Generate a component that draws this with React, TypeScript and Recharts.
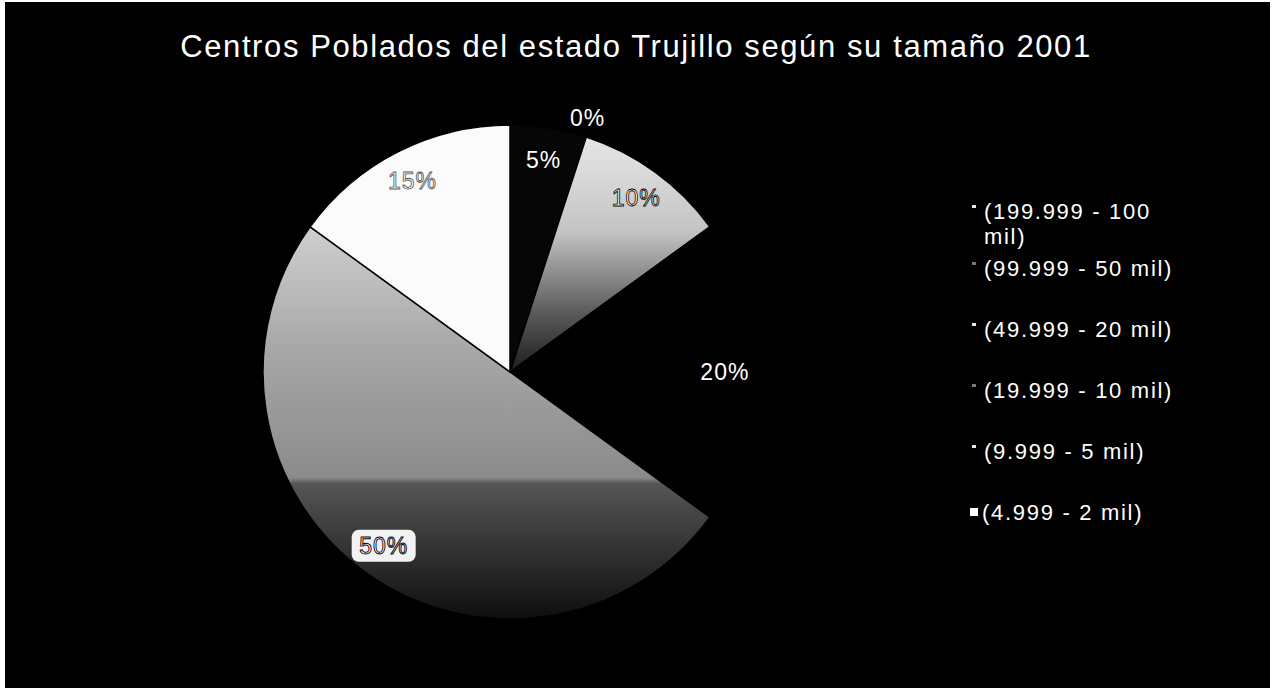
import React from "react";
import { PieChart, Pie, Cell, Legend } from "recharts";

const TITLE = "Centros Poblados del estado Trujillo según su tamaño 2001";
const categories = [
  "(199.999 - 100 mil)",
  "(99.999 - 50 mil)",
  "(49.999 - 20 mil)",
  "(19.999 - 10 mil)",
  "(9.999 - 5 mil)",
  "(4.999 - 2 mil)",
];
const shares = [0, 5, 10, 20, 50, 15];

const FILLS = ["#ffffff", "#060606", "url(#g10)", "#000000", "url(#g50)", "#fbfbfb"];
const MARKERS = ["#e8e8e8", "#777", "#e8e8e8", "#777", "#e8e8e8", "#ffffff"];
const FONT = "'Liberation Sans', Arial, sans-serif";
const RAD = Math.PI / 180;

const data = categories.map((name, i) => ({ name, value: shares[i] }));

function renderLabel(p: any) {
  const { cx, cy, midAngle, outerRadius, percent, index } = p;
  const txt = `${Math.round(percent * 100)}%`;
  let r = outerRadius * 0.87;
  let a = midAngle;
  if (shares[index] === 0) {
    r = outerRadius * 1.075;
    a = midAngle - 17;
  }
  const x = cx + r * Math.cos(-a * RAD);
  const y = cy + r * Math.sin(-a * RAD);
  const base = {
    x,
    y,
    textAnchor: "middle" as const,
    dominantBaseline: "central" as const,
    fontFamily: FONT,
    fontSize: 23,
    letterSpacing: 1,
  };
  if (index === 2) {
    return <text {...base} fill="#fff" stroke="#000" strokeWidth={0.8}>{txt}</text>;
  }
  if (index === 5) {
    return <text {...base} fill="#fff" stroke="#555" strokeWidth={0.8}>{txt}</text>;
  }
  if (index === 4) {
    return (
      <g>
        <rect x={x - 32} y={y - 16} width={64} height={32} rx={7} fill="#f2f2f2" />
        <text {...base} fill="#fff" stroke="#000" strokeWidth={0.9}>{txt}</text>
      </g>
    );
  }
  return <text {...base} fill="#fff">{txt}</text>;
}

function LegendBox() {
  return (
    <div style={{ fontFamily: FONT, fontSize: 22, letterSpacing: 1.7, color: "#fff", lineHeight: "25px" }}>
      {categories.map((c, i) => (
        <div key={c} style={{ display: "flex", height: i === 0 ? 57 : 61 }}>
          <span
            style={{
              display: "inline-block",
              width: i === 5 ? 8 : 4,
              height: i === 5 ? 8 : 3,
              background: MARKERS[i],
              marginTop: i === 5 ? 8 : 6,
              marginRight: i === 5 ? 4 : 8,
              marginLeft: i === 5 ? 0 : 2,
              flex: "none",
            }}
          />
          <span style={{ width: 200 }}>{c}</span>
        </div>
      ))}
    </div>
  );
}

export default function App() {
  return (
    <div style={{ position: "relative", width: 1272, height: 688, background: "#fff", overflow: "hidden" }}>
      <style>{`body{margin:0}`}</style>
      <div style={{ position: "absolute", left: 5, top: 2, width: 1265, height: 690, background: "#000" }} />
      <div
        style={{
          position: "absolute",
          left: 0,
          width: 1272,
          top: 29,
          textAlign: "center",
          fontFamily: FONT,
          fontSize: 31,
          letterSpacing: 1.6,
          color: "#fff",
          lineHeight: "36px",
        }}
      >
        {TITLE}
      </div>
      <div style={{ position: "absolute", left: 0, top: 0 }}>
        <PieChart width={1272} height={688}>
          <defs>
            <linearGradient id="g10" x1="0" y1="0" x2="0" y2="1">
              <stop offset="0" stopColor="#e6e6e6" />
              <stop offset="0.4" stopColor="#c4c4c4" />
              <stop offset="0.75" stopColor="#5a5a5a" />
              <stop offset="1" stopColor="#1c1c1c" />
            </linearGradient>
            <linearGradient id="g50" x1="0" y1="0" x2="0" y2="1">
              <stop offset="0" stopColor="#cfcfcf" />
              <stop offset="0.3" stopColor="#a9a9a9" />
              <stop offset="0.64" stopColor="#8a8a8a" />
              <stop offset="0.655" stopColor="#555" />
              <stop offset="1" stopColor="#0e0e0e" />
            </linearGradient>
          </defs>
          <Pie
            data={data}
            dataKey="value"
            nameKey="name"
            cx={505}
            cy={367}
            outerRadius={247}
            startAngle={90}
            endAngle={-270}
            stroke="#000"
            strokeWidth={1.5}
            label={renderLabel}
            labelLine={false}
            isAnimationActive={false}
          >
            {data.map((d, i) => (
              <Cell key={d.name} fill={FILLS[i]} />
            ))}
          </Pie>
          <Legend
            layout="vertical"
            content={() => <LegendBox />}
            wrapperStyle={{ left: 970, top: 199, width: 240, bottom: "auto", right: "auto" }}
          />
        </PieChart>
      </div>
    </div>
  );
}
